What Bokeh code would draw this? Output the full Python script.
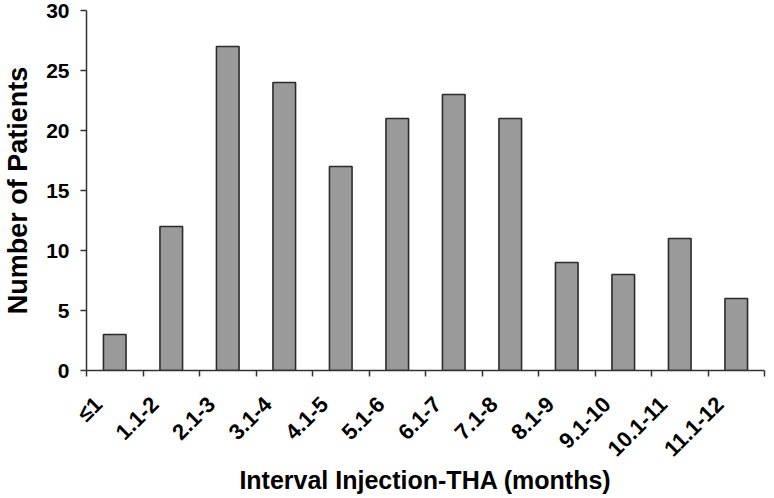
import math
from bokeh.plotting import figure
from bokeh.models import FixedTicker, Range1d, ColumnDataSource
from bokeh.embed import file_html
from bokeh.resources import INLINE

categories = ["≤1", "1.1-2", "2.1-3", "3.1-4", "4.1-5", "5.1-6", "6.1-7",
              "7.1-8", "8.1-9", "9.1-10", "10.1-11", "11.1-12"]
patients = [3, 12, 27, 24, 17, 21, 23, 21, 9, 8, 11, 6]
y_ticks = [0, 5, 10, 15, 20, 25, 30]

n = len(categories)
centers = [i + 0.5 for i in range(n)]
label_pos = [i + 0.21 for i in range(n)]
src = ColumnDataSource(dict(x=centers, top=patients))

FONT = "Liberation Sans"

p = figure(frame_width=678, frame_height=360, output_backend="svg",
           toolbar_location=None,
           x_range=Range1d(0, n), y_range=Range1d(0, 30),
           min_border_left=85, min_border_right=3, min_border_top=10,
           min_border_bottom=0)
p.outline_line_color = None
p.grid.grid_line_color = None

p.vbar(x="x", top="top", width=0.4, bottom=0, source=src,
       fill_color="#9a9a9a", line_color="#2b2b2b", line_width=1.6)

xa = p.xaxis[0]
xa.ticker = FixedTicker(ticks=label_pos, minor_ticks=list(range(n + 1)))
xa.major_label_overrides = {lp: c for lp, c in zip(label_pos, categories)}
xa.major_label_orientation = math.pi / 4
xa.major_tick_out = 0
xa.major_tick_in = 0
xa.minor_tick_out = 6
xa.minor_tick_in = 0
xa.minor_tick_line_color = "#333333"
xa.minor_tick_line_width = 1.5
xa.axis_line_color = "#333333"
xa.axis_line_width = 1.5
xa.major_label_text_font = FONT
xa.major_label_text_font_style = "bold"
xa.major_label_text_font_size = "22px"
xa.major_label_text_color = "black"
xa.major_label_standoff = 24
xa.axis_label = "Interval Injection-THA (months)"
xa.axis_label_text_font = FONT
xa.axis_label_text_font_style = "bold"
xa.axis_label_text_font_size = "25px"
xa.axis_label_text_color = "black"
xa.axis_label_standoff = -7

ya = p.yaxis[0]
ya.ticker = FixedTicker(ticks=y_ticks)
ya.minor_tick_line_color = None
ya.major_tick_out = 6
ya.major_tick_in = 0
ya.major_tick_line_color = "#333333"
ya.major_tick_line_width = 1.5
ya.axis_line_color = "#333333"
ya.axis_line_width = 1.5
ya.major_label_text_font = FONT
ya.major_label_text_font_style = "bold"
ya.major_label_text_font_size = "21px"
ya.major_label_text_color = "black"
ya.major_label_standoff = 11
ya.axis_label = "Number of Patients"
ya.axis_label_text_font = FONT
ya.axis_label_text_font_style = "bold"
ya.axis_label_text_font_size = "27px"
ya.axis_label_text_color = "black"
ya.axis_label_standoff = 10

open("out.html", "w").write(file_html(p, INLINE))
